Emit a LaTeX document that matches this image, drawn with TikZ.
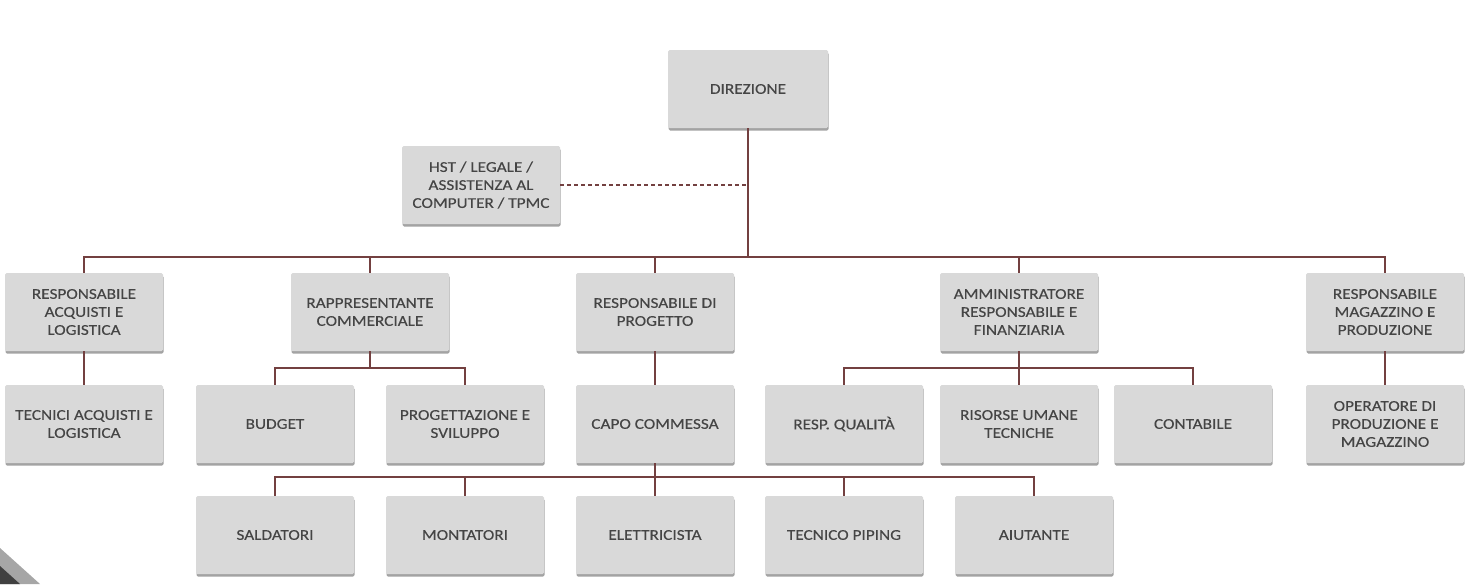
\documentclass[tikz,border=0pt]{standalone}
\usepackage{fontspec}
\setmainfont{Carlito}[FakeStretch=1.15, FakeBold=0.25]
\usepackage{tikz}
\usetikzlibrary{shadows}
\usetikzlibrary{positioning}
\definecolor{mline}{rgb}{0.45, 0.25, 0.25}
\definecolor{mbox}{rgb}{0.85, 0.85, 0.85}
\definecolor{mtext}{rgb}{0.27, 0.27, 0.27}
\tikzset{unit/.style = {fill=mbox, rounded corners=1.5, minimum width=158, minimum height=78,
                        align=center, text=mtext, font=\fontsize{15}{18}\selectfont,
                        drop shadow={shadow xshift=0.5pt, shadow yshift=-2.5pt, opacity=0.6, fill=black!60}}}
\tikzset{link/.style = {draw=mline, line width=1.4}}

\begin{document}
\begin{tikzpicture}[x=1pt, y=-1pt]
    \useasboundingbox (0, 0) rectangle (1479, 584);
    \fill [black!35] (0, 548) -- (40, 584) -- (0, 584) -- cycle;
    \fill [black!75] (0, 566) -- (20, 584) -- (0, 584) -- cycle;

    \node [unit, minimum width=160] (dir) at (748, 89) {DIREZIONE};
    \node [unit] (hst) at (481, 185) {HST / LEGALE /\\ASSISTENZA AL\\COMPUTER / TPMC};

    \node [unit] (acq) at (84, 312) {RESPONSABILE\\ACQUISTI E\\LOGISTICA};
    \node [unit] (rapp) at (370, 312) {RAPPRESENTANTE\\COMMERCIALE};
    \node [unit] (prog) at (655, 312) {RESPONSABILE DI\\PROGETTO};
    \node [unit] (amm) at (1019, 312) {AMMINISTRATORE\\RESPONSABILE E\\FINANZIARIA};
    \node [unit] (mag) at (1385, 312) {RESPONSABILE\\MAGAZZINO E\\PRODUZIONE};

    \node [unit] (tec) at (84, 424) {TECNICI ACQUISTI E\\LOGISTICA};
    \node [unit] (bud) at (275, 424) {BUDGET};
    \node [unit] (svi) at (465, 424) {PROGETTAZIONE E\\SVILUPPO};
    \node [unit] (capo) at (655, 424) {CAPO COMMESSA};
    \node [unit] (qual) at (844, 424) {RESP. QUALITÀ};
    \node [unit] (ris) at (1019, 424) {RISORSE UMANE\\TECNICHE};
    \node [unit] (cont) at (1193, 424) {CONTABILE};
    \node [unit] (oper) at (1385, 424) {OPERATORE DI\\PRODUZIONE E\\MAGAZZINO};

    \node [unit] (sal) at (275, 535) {SALDATORI};
    \node [unit] (mon) at (465, 535) {MONTATORI};
    \node [unit] (ele) at (655, 535) {ELETTRICISTA};
    \node [unit] (pip) at (844, 535) {TECNICO PIPING};
    \node [unit] (aiu) at (1034, 535) {AIUTANTE};

    \coordinate (top) at (748, 257);
    \coordinate (mid) at (0, 368);
    \coordinate (low) at (0, 477);

    \draw [link] (dir) -- (top);
    \draw [link, line width=1.1, dash pattern=on 4 off 3] (hst) -- (hst -| dir);
    \draw [link] (acq.north) |- (top) -| (mag.north);
    \draw [link] (rapp.north) -- (rapp |- top);
    \draw [link] (prog.north) -- (prog |- top);
    \draw [link] (amm.north) -- (amm |- top);

    \draw [link] (acq) -- (tec);
    \draw [link] (mag) -- (oper);
    \draw [link] (prog) -- (capo);
    \draw [link] (rapp) -- (rapp |- mid);
    \draw [link] (bud.north) |- (mid -| rapp) -| (svi.north);
    \draw [link] (qual.north) |- (mid -| amm) -| (cont.north);
    \draw [link] (amm) -- (ris);

    \draw [link] (capo) -- (capo |- low);
    \draw [link] (sal.north) |- (low -| capo) -| (aiu.north);
    \draw [link] (mon.north) -- (mon |- low);
    \draw [link] (ele.north) -- (ele |- low);
    \draw [link] (pip.north) -- (pip |- low);
  \end{tikzpicture}
\end{document}
